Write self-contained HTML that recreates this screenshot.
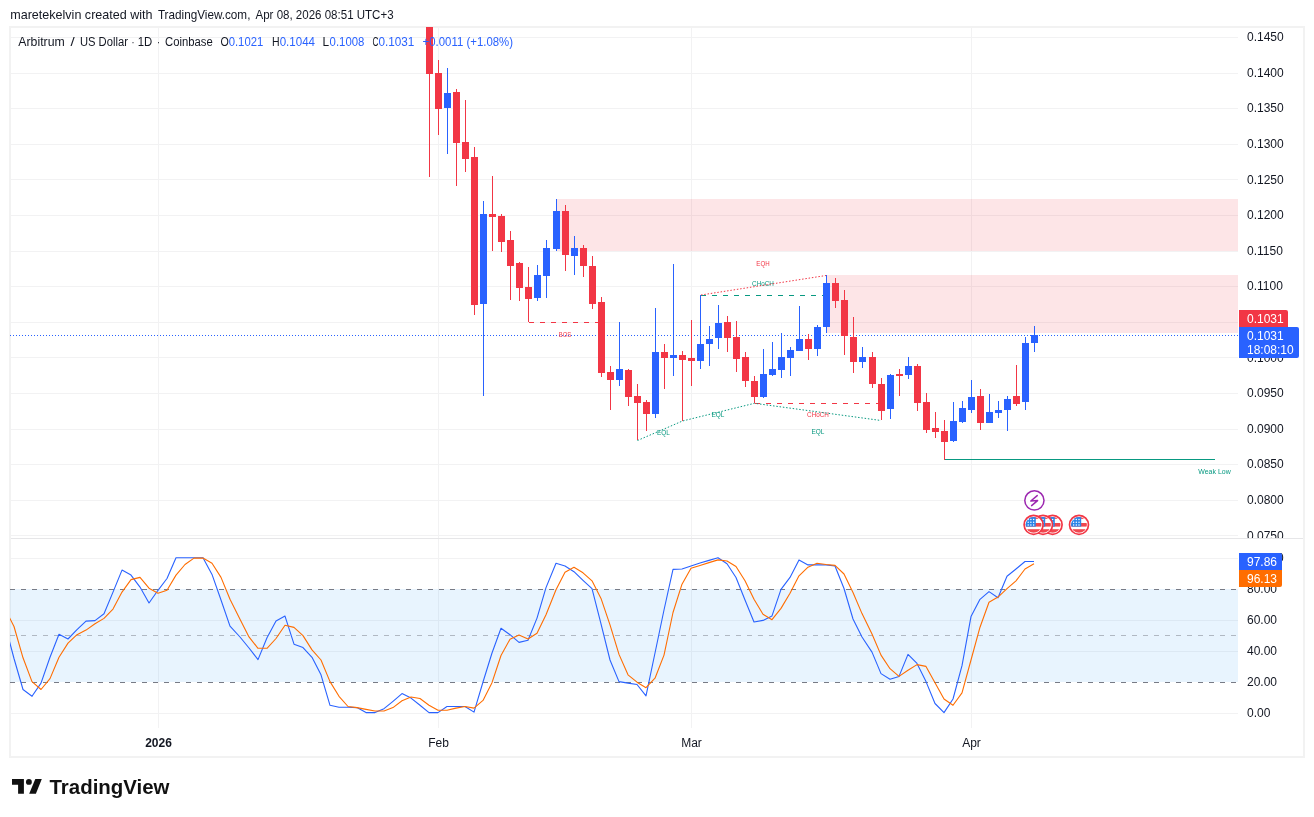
<!DOCTYPE html>
<html><head><meta charset="utf-8">
<style>
html,body{margin:0;padding:0;background:#fff;}
body{width:1314px;height:817px;overflow:hidden;position:relative;font-family:"Liberation Sans",sans-serif;color:#131722;}
#hdr{position:absolute;left:10px;top:5px;font-size:13px;line-height:16px;white-space:nowrap;color:#131722;}
svg{position:absolute;left:0;top:0;will-change:transform;}
.ax text{font-family:"Liberation Sans",sans-serif;font-size:12px;fill:#131722;}
</style></head><body>
<svg width="1314" height="817" viewBox="0 0 1314 817" shape-rendering="crispEdges">

<text x="10.2" y="19" font-size="13" fill="#131722" font-family="Liberation Sans,sans-serif" textLength="142.4" lengthAdjust="spacingAndGlyphs">maretekelvin created with</text>
<text x="157.9" y="19" font-size="13" fill="#131722" font-family="Liberation Sans,sans-serif" textLength="92.5" lengthAdjust="spacingAndGlyphs">TradingView.com,</text>
<text x="255.5" y="19" font-size="13" fill="#131722" font-family="Liberation Sans,sans-serif" textLength="138.1" lengthAdjust="spacingAndGlyphs">Apr 08, 2026 08:51 UTC+3</text>
<rect x="10" y="27" width="1294" height="730" fill="#fff" stroke="#F2F2F2" stroke-width="2"/>
<defs><clipPath id="mainclip"><rect x="10" y="27" width="1228" height="511"/></clipPath><clipPath id="stclip"><rect x="10" y="539" width="1228" height="189"/></clipPath></defs>
<g clip-path="url(#mainclip)">
<line x1="11" y1="37.5" x2="1238" y2="37.5" stroke="#F2F2F3"/>
<line x1="11" y1="73.5" x2="1238" y2="73.5" stroke="#F2F2F3"/>
<line x1="11" y1="108.5" x2="1238" y2="108.5" stroke="#F2F2F3"/>
<line x1="11" y1="144.5" x2="1238" y2="144.5" stroke="#F2F2F3"/>
<line x1="11" y1="179.5" x2="1238" y2="179.5" stroke="#F2F2F3"/>
<line x1="11" y1="215.5" x2="1238" y2="215.5" stroke="#F2F2F3"/>
<line x1="11" y1="251.5" x2="1238" y2="251.5" stroke="#F2F2F3"/>
<line x1="11" y1="286.5" x2="1238" y2="286.5" stroke="#F2F2F3"/>
<line x1="11" y1="322.5" x2="1238" y2="322.5" stroke="#F2F2F3"/>
<line x1="11" y1="357.5" x2="1238" y2="357.5" stroke="#F2F2F3"/>
<line x1="11" y1="393.5" x2="1238" y2="393.5" stroke="#F2F2F3"/>
<line x1="11" y1="429.5" x2="1238" y2="429.5" stroke="#F2F2F3"/>
<line x1="11" y1="464.5" x2="1238" y2="464.5" stroke="#F2F2F3"/>
<line x1="11" y1="500.5" x2="1238" y2="500.5" stroke="#F2F2F3"/>
<line x1="11" y1="535.5" x2="1238" y2="535.5" stroke="#F2F2F3"/>
<line x1="158.5" y1="28" x2="158.5" y2="728" stroke="#F2F2F3"/>
<line x1="438.5" y1="28" x2="438.5" y2="728" stroke="#F2F2F3"/>
<line x1="691.5" y1="28" x2="691.5" y2="728" stroke="#F2F2F3"/>
<line x1="971.5" y1="28" x2="971.5" y2="728" stroke="#F2F2F3"/>
<rect x="557" y="199" width="681" height="52" fill="#F23645" fill-opacity="0.13"/>
<rect x="827" y="275" width="411" height="58" fill="#F23645" fill-opacity="0.13"/>
<line x1="10" y1="335.5" x2="1238" y2="335.5" stroke="#2962FF" stroke-dasharray="1 2"/>
<line x1="528.5" y1="322.5" x2="598.5" y2="322.5" stroke="#F23645" stroke-dasharray="5 6"/>
<text x="565" y="337" font-size="7" fill="#F23645" text-anchor="middle" font-family="Liberation Sans,sans-serif" textLength="12.3" lengthAdjust="spacingAndGlyphs">BOS</text>
<line x1="701" y1="295.5" x2="826" y2="295.5" stroke="#089981" stroke-dasharray="5 6"/>
<text x="763" y="286" font-size="7" fill="#089981" text-anchor="middle" font-family="Liberation Sans,sans-serif" textLength="21.8" lengthAdjust="spacingAndGlyphs">CHoCH</text>
<line x1="701" y1="295" x2="826" y2="275.5" stroke="#F23645" stroke-dasharray="1.5 1.8" shape-rendering="auto"/>
<text x="763" y="266" font-size="7" fill="#F23645" text-anchor="middle" font-family="Liberation Sans,sans-serif" textLength="13.3" lengthAdjust="spacingAndGlyphs">EQH</text>
<line x1="754.5" y1="403.5" x2="880" y2="403.5" stroke="#F23645" stroke-dasharray="5 6"/>
<text x="818" y="417" font-size="7" fill="#F23645" text-anchor="middle" font-family="Liberation Sans,sans-serif" textLength="21.8" lengthAdjust="spacingAndGlyphs">CHoCH</text>
<polyline points="637.5,440.5 682.5,421 754.5,403.3 881,420.5" fill="none" stroke="#089981" stroke-dasharray="1.5 1.8" shape-rendering="auto"/>
<text x="663.5" y="435" font-size="7" fill="#089981" text-anchor="middle" font-family="Liberation Sans,sans-serif" textLength="12.9" lengthAdjust="spacingAndGlyphs">EQL</text>
<text x="718" y="417" font-size="7" fill="#089981" text-anchor="middle" font-family="Liberation Sans,sans-serif" textLength="12.9" lengthAdjust="spacingAndGlyphs">EQL</text>
<text x="818" y="434" font-size="7" fill="#089981" text-anchor="middle" font-family="Liberation Sans,sans-serif" textLength="12.9" lengthAdjust="spacingAndGlyphs">EQL</text>
<line x1="944" y1="459.5" x2="1215" y2="459.5" stroke="#089981"/>
<text x="1214.5" y="474" font-size="7" fill="#089981" text-anchor="middle" font-family="Liberation Sans,sans-serif" textLength="32.4" lengthAdjust="spacingAndGlyphs">Weak Low</text>
<rect x="429" y="20" width="1" height="157" fill="#F23645"/>
<rect x="426" y="20" width="7" height="54" fill="#F23645"/>
<rect x="438" y="60" width="1" height="75" fill="#F23645"/>
<rect x="435" y="73" width="7" height="36" fill="#F23645"/>
<rect x="447" y="68" width="1" height="86" fill="#2962FF"/>
<rect x="444" y="93" width="7" height="15" fill="#2962FF"/>
<rect x="456" y="89" width="1" height="97" fill="#F23645"/>
<rect x="453" y="92" width="7" height="51" fill="#F23645"/>
<rect x="465" y="100" width="1" height="72" fill="#F23645"/>
<rect x="462" y="142" width="7" height="17" fill="#F23645"/>
<rect x="474" y="147" width="1" height="168" fill="#F23645"/>
<rect x="471" y="157" width="7" height="148" fill="#F23645"/>
<rect x="483" y="201" width="1" height="195" fill="#2962FF"/>
<rect x="480" y="214" width="7" height="90" fill="#2962FF"/>
<rect x="492" y="176" width="1" height="75" fill="#F23645"/>
<rect x="489" y="214" width="7" height="3" fill="#F23645"/>
<rect x="501" y="214" width="1" height="38" fill="#F23645"/>
<rect x="498" y="216" width="7" height="26" fill="#F23645"/>
<rect x="510" y="231" width="1" height="69" fill="#F23645"/>
<rect x="507" y="240" width="7" height="26" fill="#F23645"/>
<rect x="519" y="262" width="1" height="39" fill="#F23645"/>
<rect x="516" y="263" width="7" height="25" fill="#F23645"/>
<rect x="528" y="267" width="1" height="55" fill="#F23645"/>
<rect x="525" y="287" width="7" height="12" fill="#F23645"/>
<rect x="537" y="265" width="1" height="36" fill="#2962FF"/>
<rect x="534" y="275" width="7" height="23" fill="#2962FF"/>
<rect x="546" y="240" width="1" height="58" fill="#2962FF"/>
<rect x="543" y="248" width="7" height="28" fill="#2962FF"/>
<rect x="556" y="199" width="1" height="52" fill="#2962FF"/>
<rect x="553" y="211" width="7" height="38" fill="#2962FF"/>
<rect x="565" y="205" width="1" height="66" fill="#F23645"/>
<rect x="562" y="211" width="7" height="44" fill="#F23645"/>
<rect x="574" y="236" width="1" height="39" fill="#2962FF"/>
<rect x="571" y="248" width="7" height="8" fill="#2962FF"/>
<rect x="583" y="245" width="1" height="32" fill="#F23645"/>
<rect x="580" y="248" width="7" height="18" fill="#F23645"/>
<rect x="592" y="256" width="1" height="53" fill="#F23645"/>
<rect x="589" y="266" width="7" height="38" fill="#F23645"/>
<rect x="601" y="297" width="1" height="80" fill="#F23645"/>
<rect x="598" y="302" width="7" height="71" fill="#F23645"/>
<rect x="610" y="366" width="1" height="44" fill="#F23645"/>
<rect x="607" y="372" width="7" height="8" fill="#F23645"/>
<rect x="619" y="322" width="1" height="64" fill="#2962FF"/>
<rect x="616" y="369" width="7" height="11" fill="#2962FF"/>
<rect x="628" y="369" width="1" height="37" fill="#F23645"/>
<rect x="625" y="370" width="7" height="27" fill="#F23645"/>
<rect x="637" y="384" width="1" height="56" fill="#F23645"/>
<rect x="634" y="396" width="7" height="7" fill="#F23645"/>
<rect x="646" y="400" width="1" height="31" fill="#F23645"/>
<rect x="643" y="402" width="7" height="12" fill="#F23645"/>
<rect x="655" y="308" width="1" height="110" fill="#2962FF"/>
<rect x="652" y="352" width="7" height="62" fill="#2962FF"/>
<rect x="664" y="344" width="1" height="45" fill="#F23645"/>
<rect x="661" y="352" width="7" height="6" fill="#F23645"/>
<rect x="673" y="264" width="1" height="112" fill="#2962FF"/>
<rect x="670" y="355" width="7" height="3" fill="#2962FF"/>
<rect x="682" y="351" width="1" height="70" fill="#F23645"/>
<rect x="679" y="355" width="7" height="5" fill="#F23645"/>
<rect x="691" y="320" width="1" height="66" fill="#F23645"/>
<rect x="688" y="358" width="7" height="3" fill="#F23645"/>
<rect x="700" y="295" width="1" height="74" fill="#2962FF"/>
<rect x="697" y="344" width="7" height="17" fill="#2962FF"/>
<rect x="709" y="326" width="1" height="40" fill="#2962FF"/>
<rect x="706" y="339" width="7" height="5" fill="#2962FF"/>
<rect x="718" y="305" width="1" height="44" fill="#2962FF"/>
<rect x="715" y="323" width="7" height="15" fill="#2962FF"/>
<rect x="727" y="316" width="1" height="36" fill="#F23645"/>
<rect x="724" y="322" width="7" height="16" fill="#F23645"/>
<rect x="736" y="321" width="1" height="51" fill="#F23645"/>
<rect x="733" y="337" width="7" height="22" fill="#F23645"/>
<rect x="745" y="352" width="1" height="35" fill="#F23645"/>
<rect x="742" y="357" width="7" height="24" fill="#F23645"/>
<rect x="754" y="376" width="1" height="27" fill="#F23645"/>
<rect x="751" y="381" width="7" height="16" fill="#F23645"/>
<rect x="763" y="349" width="1" height="49" fill="#2962FF"/>
<rect x="760" y="374" width="7" height="23" fill="#2962FF"/>
<rect x="772" y="342" width="1" height="34" fill="#2962FF"/>
<rect x="769" y="369" width="7" height="6" fill="#2962FF"/>
<rect x="781" y="333" width="1" height="45" fill="#2962FF"/>
<rect x="778" y="357" width="7" height="13" fill="#2962FF"/>
<rect x="790" y="347" width="1" height="29" fill="#2962FF"/>
<rect x="787" y="350" width="7" height="8" fill="#2962FF"/>
<rect x="799" y="306" width="1" height="45" fill="#2962FF"/>
<rect x="796" y="339" width="7" height="12" fill="#2962FF"/>
<rect x="808" y="334" width="1" height="26" fill="#F23645"/>
<rect x="805" y="339" width="7" height="10" fill="#F23645"/>
<rect x="817" y="325" width="1" height="31" fill="#2962FF"/>
<rect x="814" y="327" width="7" height="22" fill="#2962FF"/>
<rect x="826" y="275" width="1" height="58" fill="#2962FF"/>
<rect x="823" y="283" width="7" height="44" fill="#2962FF"/>
<rect x="835" y="278" width="1" height="30" fill="#F23645"/>
<rect x="832" y="283" width="7" height="18" fill="#F23645"/>
<rect x="844" y="290" width="1" height="65" fill="#F23645"/>
<rect x="841" y="300" width="7" height="36" fill="#F23645"/>
<rect x="853" y="317" width="1" height="56" fill="#F23645"/>
<rect x="850" y="337" width="7" height="25" fill="#F23645"/>
<rect x="862" y="347" width="1" height="21" fill="#2962FF"/>
<rect x="859" y="357" width="7" height="5" fill="#2962FF"/>
<rect x="872" y="352" width="1" height="36" fill="#F23645"/>
<rect x="869" y="357" width="7" height="27" fill="#F23645"/>
<rect x="881" y="378" width="1" height="42" fill="#F23645"/>
<rect x="878" y="384" width="7" height="27" fill="#F23645"/>
<rect x="890" y="374" width="1" height="45" fill="#2962FF"/>
<rect x="887" y="375" width="7" height="34" fill="#2962FF"/>
<rect x="899" y="369" width="1" height="27" fill="#F23645"/>
<rect x="896" y="374" width="7" height="2" fill="#F23645"/>
<rect x="908" y="357" width="1" height="22" fill="#2962FF"/>
<rect x="905" y="366" width="7" height="9" fill="#2962FF"/>
<rect x="917" y="364" width="1" height="47" fill="#F23645"/>
<rect x="914" y="366" width="7" height="37" fill="#F23645"/>
<rect x="926" y="393" width="1" height="40" fill="#F23645"/>
<rect x="923" y="402" width="7" height="28" fill="#F23645"/>
<rect x="935" y="412" width="1" height="26" fill="#F23645"/>
<rect x="932" y="428" width="7" height="4" fill="#F23645"/>
<rect x="944" y="420" width="1" height="40" fill="#F23645"/>
<rect x="941" y="431" width="7" height="11" fill="#F23645"/>
<rect x="953" y="402" width="1" height="40" fill="#2962FF"/>
<rect x="950" y="421" width="7" height="20" fill="#2962FF"/>
<rect x="962" y="401" width="1" height="22" fill="#2962FF"/>
<rect x="959" y="408" width="7" height="14" fill="#2962FF"/>
<rect x="971" y="380" width="1" height="33" fill="#2962FF"/>
<rect x="968" y="397" width="7" height="13" fill="#2962FF"/>
<rect x="980" y="389" width="1" height="41" fill="#F23645"/>
<rect x="977" y="396" width="7" height="27" fill="#F23645"/>
<rect x="989" y="394" width="1" height="29" fill="#2962FF"/>
<rect x="986" y="412" width="7" height="11" fill="#2962FF"/>
<rect x="998" y="401" width="1" height="17" fill="#2962FF"/>
<rect x="995" y="410" width="7" height="3" fill="#2962FF"/>
<rect x="1007" y="396" width="1" height="35" fill="#2962FF"/>
<rect x="1004" y="399" width="7" height="11" fill="#2962FF"/>
<rect x="1016" y="365" width="1" height="41" fill="#F23645"/>
<rect x="1013" y="396" width="7" height="8" fill="#F23645"/>
<rect x="1025" y="337" width="1" height="73" fill="#2962FF"/>
<rect x="1022" y="343" width="7" height="59" fill="#2962FF"/>
<rect x="1034" y="326" width="1" height="26" fill="#2962FF"/>
<rect x="1031" y="335" width="7" height="8" fill="#2962FF"/>
<g transform="translate(1034.4,500.4)" shape-rendering="auto"><circle r="9.6" fill="#fff" stroke="#9C27B0" stroke-width="1.5"/><path d="M2.8,-4.8 L-3.6,0.6 L3.2,0.2 L-2.8,5.2" fill="none" stroke="#9C27B0" stroke-width="1.5" stroke-linecap="round" stroke-linejoin="round" shape-rendering="auto"/></g>
<g shape-rendering="auto">
<g transform="translate(1079,524.8)">
<circle r="9.5" fill="#fff" stroke="#F23645" stroke-width="1.7"/>
<clipPath id="fc1079"><circle r="7.9"/></clipPath>
<g clip-path="url(#fc1079)">
<rect x="-9" y="-8" width="18" height="2.1" fill="#F0474F"/>
<rect x="-9" y="-1.8" width="18" height="3.6" fill="#F0474F"/>
<rect x="-9" y="4.4" width="18" height="3.7" fill="#F0474F"/>
<rect x="-9" y="-8.5" width="11.2" height="10.3" fill="#2A85E8"/>
<circle cx="-5.4" cy="-5.3" r="0.75" fill="#fff"/><circle cx="-5.4" cy="-2.6" r="0.75" fill="#fff"/><circle cx="-5.4" cy="0.1" r="0.75" fill="#fff"/><circle cx="-2.7" cy="-5.3" r="0.75" fill="#fff"/><circle cx="-2.7" cy="-2.6" r="0.75" fill="#fff"/><circle cx="-2.7" cy="0.1" r="0.75" fill="#fff"/><circle cx="0" cy="-5.3" r="0.75" fill="#fff"/><circle cx="0" cy="-2.6" r="0.75" fill="#fff"/><circle cx="0" cy="0.1" r="0.75" fill="#fff"/>
</g></g>
<g transform="translate(1052.6,524.8)">
<circle r="9.5" fill="#fff" stroke="#F23645" stroke-width="1.7"/>
<clipPath id="fc1052_6"><circle r="7.9"/></clipPath>
<g clip-path="url(#fc1052_6)">
<rect x="-9" y="-8" width="18" height="2.1" fill="#F0474F"/>
<rect x="-9" y="-1.8" width="18" height="3.6" fill="#F0474F"/>
<rect x="-9" y="4.4" width="18" height="3.7" fill="#F0474F"/>
<rect x="-9" y="-8.5" width="11.2" height="10.3" fill="#2A85E8"/>
<circle cx="-5.4" cy="-5.3" r="0.75" fill="#fff"/><circle cx="-5.4" cy="-2.6" r="0.75" fill="#fff"/><circle cx="-5.4" cy="0.1" r="0.75" fill="#fff"/><circle cx="-2.7" cy="-5.3" r="0.75" fill="#fff"/><circle cx="-2.7" cy="-2.6" r="0.75" fill="#fff"/><circle cx="-2.7" cy="0.1" r="0.75" fill="#fff"/><circle cx="0" cy="-5.3" r="0.75" fill="#fff"/><circle cx="0" cy="-2.6" r="0.75" fill="#fff"/><circle cx="0" cy="0.1" r="0.75" fill="#fff"/>
</g></g>
<g transform="translate(1043,524.8)">
<circle r="9.5" fill="#fff" stroke="#F23645" stroke-width="1.7"/>
<clipPath id="fc1043"><circle r="7.9"/></clipPath>
<g clip-path="url(#fc1043)">
<rect x="-9" y="-8" width="18" height="2.1" fill="#F0474F"/>
<rect x="-9" y="-1.8" width="18" height="3.6" fill="#F0474F"/>
<rect x="-9" y="4.4" width="18" height="3.7" fill="#F0474F"/>
<rect x="-9" y="-8.5" width="11.2" height="10.3" fill="#2A85E8"/>
<circle cx="-5.4" cy="-5.3" r="0.75" fill="#fff"/><circle cx="-5.4" cy="-2.6" r="0.75" fill="#fff"/><circle cx="-5.4" cy="0.1" r="0.75" fill="#fff"/><circle cx="-2.7" cy="-5.3" r="0.75" fill="#fff"/><circle cx="-2.7" cy="-2.6" r="0.75" fill="#fff"/><circle cx="-2.7" cy="0.1" r="0.75" fill="#fff"/><circle cx="0" cy="-5.3" r="0.75" fill="#fff"/><circle cx="0" cy="-2.6" r="0.75" fill="#fff"/><circle cx="0" cy="0.1" r="0.75" fill="#fff"/>
</g></g>
<g transform="translate(1033.6,524.8)">
<circle r="9.5" fill="#fff" stroke="#F23645" stroke-width="1.7"/>
<clipPath id="fc1033_6"><circle r="7.9"/></clipPath>
<g clip-path="url(#fc1033_6)">
<rect x="-9" y="-8" width="18" height="2.1" fill="#F0474F"/>
<rect x="-9" y="-1.8" width="18" height="3.6" fill="#F0474F"/>
<rect x="-9" y="4.4" width="18" height="3.7" fill="#F0474F"/>
<rect x="-9" y="-8.5" width="11.2" height="10.3" fill="#2A85E8"/>
<circle cx="-5.4" cy="-5.3" r="0.75" fill="#fff"/><circle cx="-5.4" cy="-2.6" r="0.75" fill="#fff"/><circle cx="-5.4" cy="0.1" r="0.75" fill="#fff"/><circle cx="-2.7" cy="-5.3" r="0.75" fill="#fff"/><circle cx="-2.7" cy="-2.6" r="0.75" fill="#fff"/><circle cx="-2.7" cy="0.1" r="0.75" fill="#fff"/><circle cx="0" cy="-5.3" r="0.75" fill="#fff"/><circle cx="0" cy="-2.6" r="0.75" fill="#fff"/><circle cx="0" cy="0.1" r="0.75" fill="#fff"/>
</g></g>
</g>
</g>
<line x1="11" y1="538.5" x2="1303" y2="538.5" stroke="#E6E6E8"/>
<g clip-path="url(#stclip)">
<line x1="11" y1="558.5" x2="1238" y2="558.5" stroke="#F2F2F3"/>
<line x1="11" y1="620.5" x2="1238" y2="620.5" stroke="#F2F2F3"/>
<line x1="11" y1="651.5" x2="1238" y2="651.5" stroke="#F2F2F3"/>
<line x1="11" y1="713.5" x2="1238" y2="713.5" stroke="#F2F2F3"/>
<line x1="158.5" y1="28" x2="158.5" y2="728" stroke="#F2F2F3"/>
<line x1="438.5" y1="28" x2="438.5" y2="728" stroke="#F2F2F3"/>
<line x1="691.5" y1="28" x2="691.5" y2="728" stroke="#F2F2F3"/>
<line x1="971.5" y1="28" x2="971.5" y2="728" stroke="#F2F2F3"/>
<rect x="10" y="589" width="1228" height="93" fill="#2196F3" fill-opacity="0.1"/>
<line x1="10" y1="589.5" x2="1238" y2="589.5" stroke="#787B86" stroke-dasharray="5 6"/>
<line x1="10" y1="682.5" x2="1238" y2="682.5" stroke="#787B86" stroke-dasharray="5 6"/>
<line x1="10" y1="635.5" x2="1238" y2="635.5" stroke="#787B86" stroke-opacity="0.5" stroke-dasharray="5 6"/>
<g shape-rendering="auto">
<polyline points="4.8,623.8 14.0,658.5 23.0,689.5 32.0,696.3 41.0,683.1 50.0,657.3 59.0,634.2 68.0,639.0 77.0,629.7 86.0,621.1 95.0,620.6 104.0,613.8 113.0,592.1 122.0,570.1 131.0,575.1 140.0,587.1 149.0,603.0 158.0,590.3 167.0,578.5 176.0,557.7 185.0,557.7 194.0,557.7 203.0,557.7 212.0,574.4 221.0,600.0 230.0,626.1 240.0,637.0 249.0,648.0 258.0,659.6 267.0,637.8 276.0,621.1 285.0,616.1 294.0,644.2 303.0,647.6 312.0,657.3 321.0,674.8 330.0,705.3 339.0,707.2 348.0,707.2 357.0,707.6 366.0,712.6 375.0,712.6 384.0,708.7 393.0,701.3 402.0,693.6 411.0,698.1 420.0,705.3 429.0,712.6 438.0,712.6 447.0,706.5 456.0,706.5 465.0,706.5 474.0,712.1 483.0,682.0 492.0,653.0 501.0,628.3 510.0,634.7 519.0,642.4 528.0,640.3 537.0,618.1 546.0,587.6 556.0,563.3 565.0,566.0 574.0,571.7 583.0,580.3 592.0,588.7 601.0,623.8 610.0,660.0 619.0,681.6 628.0,683.1 637.0,684.5 646.0,695.8 655.0,653.0 664.0,610.0 673.0,569.4 682.0,569.0 691.0,566.0 700.0,563.1 709.0,560.4 718.0,557.7 727.0,563.8 736.0,577.5 745.0,600.0 754.0,622.0 763.0,620.4 772.0,615.9 781.0,589.4 790.0,577.4 799.0,559.9 808.0,564.9 817.0,564.9 826.0,564.9 835.0,566.0 844.0,588.5 853.0,619.0 862.0,637.0 872.0,652.1 881.0,673.6 890.0,679.3 899.0,676.4 908.0,654.4 917.0,663.4 926.0,681.6 935.0,703.5 944.0,712.6 953.0,699.0 962.0,665.7 971.0,616.6 980.0,599.3 989.0,591.6 998.0,597.8 1007.0,576.2 1016.0,569.0 1025.0,561.5 1034.0,561.5" fill="none" stroke="#2962FF" stroke-width="1.1" stroke-linejoin="round"/>
<polyline points="4.8,608.4 14.0,626.5 23.0,657.8 32.0,681.6 41.0,689.5 50.0,678.6 59.0,657.3 68.0,643.1 77.0,634.7 86.0,630.1 95.0,623.8 104.0,618.4 113.0,609.1 122.0,592.1 131.0,579.6 140.0,577.4 149.0,588.2 158.0,593.2 167.0,590.3 176.0,575.1 185.0,564.5 194.0,558.1 203.0,558.1 212.0,563.3 221.0,577.4 230.0,599.3 240.0,619.3 249.0,636.9 258.0,648.3 267.0,648.3 276.0,638.5 285.0,625.2 294.0,627.4 303.0,635.6 312.0,649.9 321.0,660.0 330.0,681.6 339.0,696.3 348.0,706.5 357.0,707.6 366.0,709.4 375.0,711.0 384.0,711.0 393.0,707.6 402.0,700.8 411.0,697.0 420.0,698.5 429.0,705.3 438.0,710.3 447.0,710.3 456.0,708.1 465.0,706.5 474.0,708.1 483.0,700.4 492.0,682.7 501.0,655.5 510.0,639.2 519.0,635.1 528.0,639.0 537.0,633.3 546.0,614.7 556.0,589.8 565.0,572.2 574.0,567.2 583.0,572.8 592.0,580.8 601.0,598.4 610.0,624.9 619.0,654.4 628.0,674.8 637.0,682.2 646.0,687.7 655.0,678.2 664.0,655.1 673.0,612.5 682.0,584.2 691.0,568.3 700.0,565.4 709.0,562.6 718.0,559.9 727.0,561.0 736.0,566.5 745.0,580.8 754.0,599.3 763.0,614.3 772.0,619.7 781.0,608.4 790.0,593.2 799.0,575.8 808.0,567.2 817.0,563.3 826.0,564.5 835.0,565.4 844.0,574.0 853.0,592.5 862.0,613.6 872.0,634.0 881.0,655.1 890.0,668.7 899.0,676.4 908.0,670.2 917.0,664.6 926.0,666.4 935.0,682.7 944.0,699.0 953.0,705.3 962.0,692.9 971.0,660.0 980.0,627.2 989.0,602.3 998.0,597.1 1007.0,588.7 1016.0,580.8 1025.0,569.0 1034.0,563.8" fill="none" stroke="#FF6D00" stroke-width="1.1" stroke-linejoin="round"/>
</g>
</g>
<defs><clipPath id="pax"><rect x="1238" y="28" width="66" height="510"/></clipPath><clipPath id="sax"><rect x="1238" y="539" width="66" height="189"/></clipPath></defs>
<g class="ax" clip-path="url(#pax)">
<text x="1247" y="41.2">0.1450</text>
<text x="1247" y="76.8">0.1400</text>
<text x="1247" y="112.4">0.1350</text>
<text x="1247" y="148.0">0.1300</text>
<text x="1247" y="183.6">0.1250</text>
<text x="1247" y="219.2">0.1200</text>
<text x="1247" y="254.8">0.1150</text>
<text x="1247" y="290.4">0.1100</text>
<text x="1247" y="361.6">0.1000</text>
<text x="1247" y="397.2">0.0950</text>
<text x="1247" y="432.8">0.0900</text>
<text x="1247" y="468.4">0.0850</text>
<text x="1247" y="504.0">0.0800</text>
<text x="1247" y="539.6">0.0750</text>
</g><g class="ax" clip-path="url(#sax)">
<text x="1247" y="561.7">100.00</text>
<text x="1247" y="592.7">80.00</text>
<text x="1247" y="623.8">60.00</text>
<text x="1247" y="654.8">40.00</text>
<text x="1247" y="685.9">20.00</text>
<text x="1247" y="716.9">0.00</text>
</g><g class="ax">
<text x="158.5" y="747" text-anchor="middle" font-weight="bold">2026</text>
<text x="438.5" y="747" text-anchor="middle">Feb</text>
<text x="691.5" y="747" text-anchor="middle">Mar</text>
<text x="971.5" y="747" text-anchor="middle">Apr</text>
</g>
<g shape-rendering="auto">
<path d="M1239,310 H1286 a2,2 0 0 1 2,2 V327 H1239 Z" fill="#F23645"/>
<text x="1247" y="323" font-size="12" fill="#fff" font-family="Liberation Sans,sans-serif">0.1031</text>
<path d="M1239,327 H1297 a2,2 0 0 1 2,2 V356 a2,2 0 0 1 -2,2 H1239 Z" fill="#2962FF"/>
<text x="1247" y="340" font-size="12" fill="#fff" font-family="Liberation Sans,sans-serif">0.1031</text>
<text x="1247" y="354" font-size="12" fill="#fff" font-family="Liberation Sans,sans-serif">18:08:10</text>
<path d="M1239,553 H1280 a2,2 0 0 1 2,2 V570 H1239 Z" fill="#2962FF"/>
<text x="1247" y="566" font-size="12" fill="#fff" font-family="Liberation Sans,sans-serif">97.86</text>
<path d="M1239,570 H1282 V585 a2,2 0 0 1 -2,2 H1239 Z" fill="#FF6D00"/>
<text x="1247" y="583" font-size="12" fill="#fff" font-family="Liberation Sans,sans-serif">96.13</text>
</g>
<text x="18.3" y="45.8" font-size="12" font-family="Liberation Sans,sans-serif" fill="#131722" textLength="46.4" lengthAdjust="spacingAndGlyphs">Arbitrum</text>
<text x="70.5" y="45.8" font-size="12" font-family="Liberation Sans,sans-serif" fill="#131722" textLength="4.2" lengthAdjust="spacingAndGlyphs">/</text>
<text x="79.9" y="45.8" font-size="12" font-family="Liberation Sans,sans-serif" fill="#131722" textLength="48" lengthAdjust="spacingAndGlyphs">US Dollar</text>
<text x="131.5" y="45.8" font-size="12" font-family="Liberation Sans,sans-serif" fill="#131722" textLength="3" lengthAdjust="spacingAndGlyphs">·</text>
<text x="137.7" y="45.8" font-size="12" font-family="Liberation Sans,sans-serif" fill="#131722" textLength="14.5" lengthAdjust="spacingAndGlyphs">1D</text>
<text x="157" y="45.8" font-size="12" font-family="Liberation Sans,sans-serif" fill="#131722" textLength="3" lengthAdjust="spacingAndGlyphs">·</text>
<text x="165.1" y="45.8" font-size="12" font-family="Liberation Sans,sans-serif" fill="#131722" textLength="47.7" lengthAdjust="spacingAndGlyphs">Coinbase</text>
<text x="220.4" y="45.8" font-size="12" font-family="Liberation Sans,sans-serif" fill="#131722" textLength="8.3" lengthAdjust="spacingAndGlyphs">O</text>
<text x="228.7" y="45.8" font-size="12" font-family="Liberation Sans,sans-serif" fill="#2962FF" textLength="34.6" lengthAdjust="spacingAndGlyphs">0.1021</text>
<text x="272.1" y="45.8" font-size="12" font-family="Liberation Sans,sans-serif" fill="#131722" textLength="7.6" lengthAdjust="spacingAndGlyphs">H</text>
<text x="279.7" y="45.8" font-size="12" font-family="Liberation Sans,sans-serif" fill="#2962FF" textLength="35.3" lengthAdjust="spacingAndGlyphs">0.1044</text>
<text x="322.6" y="45.8" font-size="12" font-family="Liberation Sans,sans-serif" fill="#131722" textLength="6.6" lengthAdjust="spacingAndGlyphs">L</text>
<text x="329.6" y="45.8" font-size="12" font-family="Liberation Sans,sans-serif" fill="#2962FF" textLength="34.8" lengthAdjust="spacingAndGlyphs">0.1008</text>
<text x="372.4" y="45.8" font-size="12" font-family="Liberation Sans,sans-serif" fill="#131722" textLength="6.0" lengthAdjust="spacingAndGlyphs">C</text>
<text x="378.4" y="45.8" font-size="12" font-family="Liberation Sans,sans-serif" fill="#2962FF" textLength="35.9" lengthAdjust="spacingAndGlyphs">0.1031</text>
<text x="422.6" y="45.8" font-size="12" font-family="Liberation Sans,sans-serif" fill="#2962FF" textLength="90.4" lengthAdjust="spacingAndGlyphs">+0.0011 (+1.08%)</text>
<g fill="#111111" shape-rendering="auto"><path d="M12,779H23.9V793.7H18.1V784.8H12Z"/><circle cx="28.9" cy="781.9" r="2.95"/><path d="M35.3,779H41.8L35.9,793.7H29.2Z"/></g>
<text x="49.5" y="794" font-size="20.5" font-weight="bold" fill="#111111" font-family="Liberation Sans,sans-serif" textLength="120" lengthAdjust="spacingAndGlyphs">TradingView</text>
</svg></body></html>
